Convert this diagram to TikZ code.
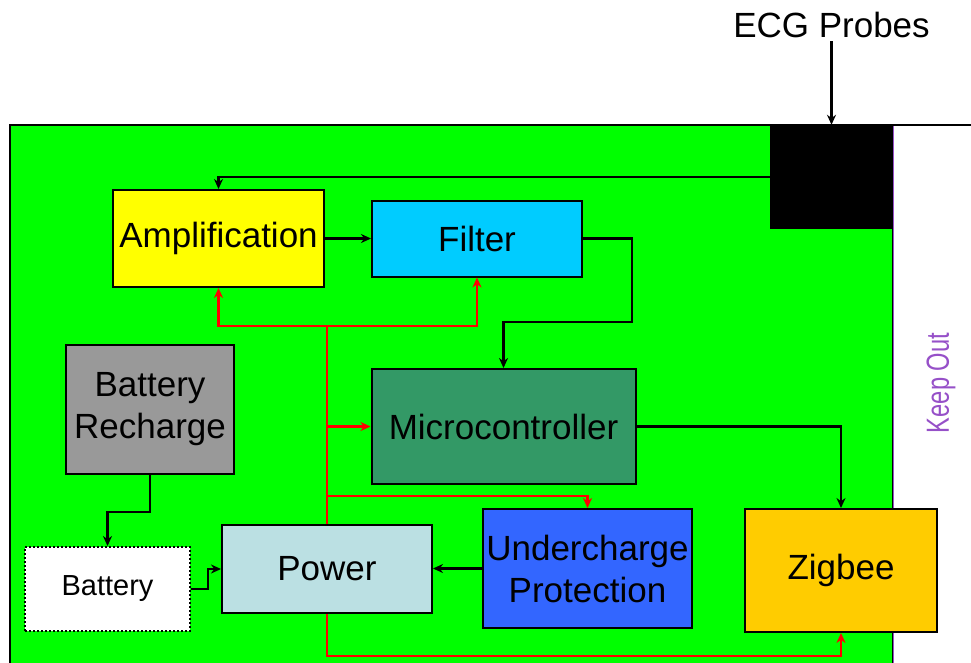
\documentclass[tikz,border=0pt]{standalone}
\usepackage{fontspec}
\setmainfont{Liberation Sans}
\usetikzlibrary{arrows.meta, positioning}
\definecolor{boardgreen}{RGB}{0,255,0}
\definecolor{ampyellow}{RGB}{255,255,0}
\definecolor{filtercyan}{RGB}{0,204,255}
\definecolor{microgreen}{RGB}{51,153,102}
\definecolor{underblue}{RGB}{51,102,255}
\definecolor{zigorange}{RGB}{255,204,0}
\definecolor{powerblue}{RGB}{187,224,227}
\definecolor{rechargegrey}{RGB}{153,153,153}
\definecolor{keepoutpurple}{RGB}{150,80,200}
\tikzstyle{block} = [rectangle, draw=black, line width=2pt, inner sep=0pt, text centered, align=center, font=\fontsize{35}{42}\selectfont]
\tikzstyle{arrow} = [line width=2.5pt,->,>={Stealth[length=10pt,width=9pt]}]
\tikzstyle{powerarrow} = [line width=2.5pt,->,>={Stealth[length=10pt,width=9pt]},draw=red]
\tikzstyle{powerline} = [line width=2.5pt,draw=red]

\begin{document}
\begin{tikzpicture}[x=1pt,y=-1pt]
\useasboundingbox (0,0) rectangle (971,662);

% Board and keep out area
\draw [line width=2pt, fill=boardgreen] (10,125) rectangle (893,664);
\draw [line width=2pt] (893,125) -- (972,125);
\draw [line width=1pt, keepoutpurple] (893,126) -- (893,664);
\node (keepout) [rotate=90, text=keepoutpurple, font=\fontsize{32}{32}\selectfont] at (941,383) {\scalebox{0.74}[1]{Keep Out}};

% Probe connector
\node (probe) [rectangle, fill=black, minimum width=123pt, minimum height=104pt] at (831.5,177) {};
\node (ecg) [font=\fontsize{35}{42}\selectfont] at (831.5,25) {ECG Probes};

% Blocks
\node (amp) [block, fill=ampyellow, minimum width=211pt, minimum height=97pt] at (218.5,238.5) {Amplification};
\node (filter) [block, fill=filtercyan, minimum width=210pt, minimum height=76pt, right=46pt of amp] {Filter};
\node (micro) [block, fill=microgreen, minimum width=264pt, minimum height=115pt] at (503.5,426.5) {Microcontroller};
\node (recharge) [block, fill=rechargegrey, minimum width=168pt, minimum height=129pt] at (150,409.5) {Battery\\Recharge};
\node (battery) [block, dotted, fill=white, minimum width=165pt, minimum height=84pt, font=\fontsize{29}{34}\selectfont] at (107.5,589) {Battery};
\node (power) [block, fill=powerblue, minimum width=210pt, minimum height=88pt] at (327,569) {Power};
\node (under) [block, fill=underblue, minimum width=209pt, minimum height=119pt] at (587.5,568.5) {Undercharge\\Protection};
\node (zigbee) [block, fill=zigorange, minimum width=192pt, minimum height=123pt] at (841,570.5) {Zigbee};

% Signal path
\draw [arrow] (ecg) -- (probe);
\draw [arrow] (probe.west) -| (amp.north);
\draw [arrow] (amp.east) -- (amp.east -| filter.west);
\coordinate (fbend) at (632,322);
\draw [arrow] (filter.east) -| (fbend) -| (micro.north);
\draw [arrow] (micro.east) -| (zigbee.north);

% Battery path
\draw [arrow] (recharge.south) -- ++(0,37) -| (battery.north);
\draw [arrow] (battery.east) -- ++(17,0) |- (power.west);
\draw [arrow] (under.west) -- (under.west -| power.east);

% Power distribution
\draw [powerline] (power.north) -- ++(0,-198) coordinate (ptop);
\draw [powerarrow] (ptop) -| (amp.south);
\draw [powerarrow] (ptop) -| (filter.south);
\draw [powerarrow] (power.north |- micro.west) -- (micro.west);
\draw [powerarrow] (power.north |- 0,496) -| (under.north);
\draw [powerarrow] (power.south) -- ++(0,42) -| (zigbee.south);

\end{tikzpicture}
\end{document}
